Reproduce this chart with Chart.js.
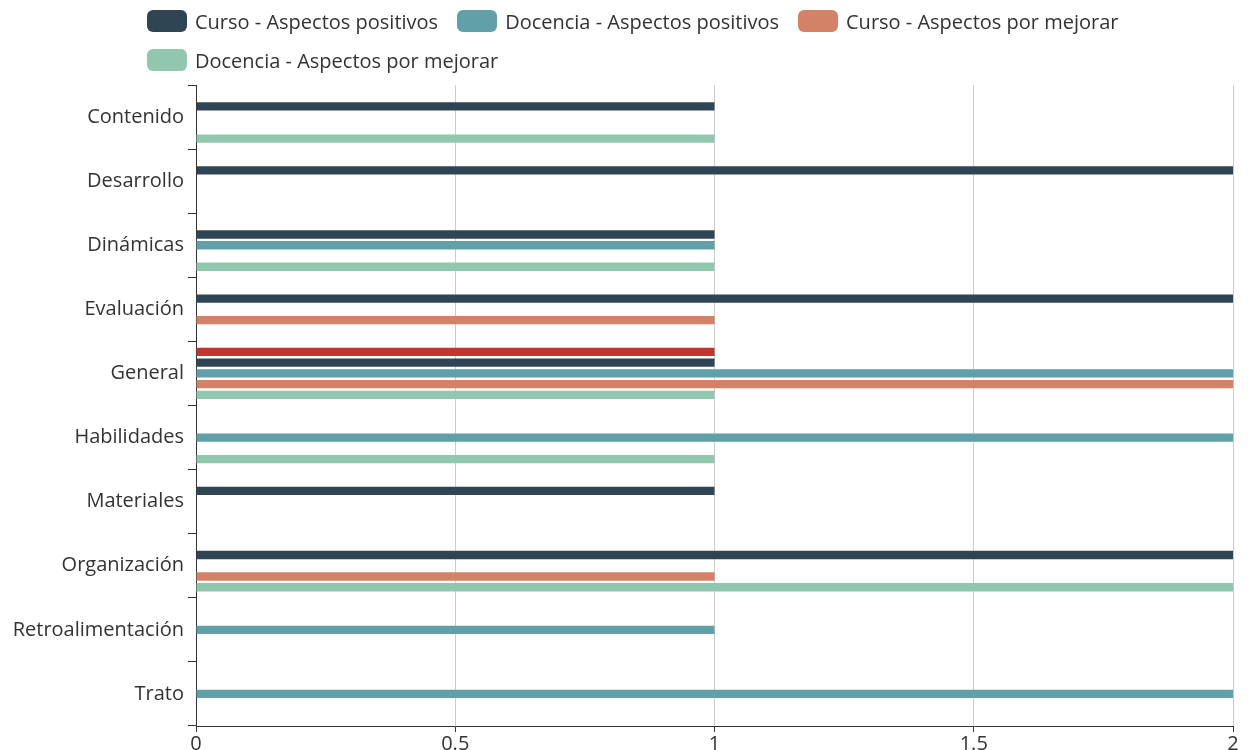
<!DOCTYPE html>
<html>
<head>
<meta charset="utf-8">
<script src="https://cdn.jsdelivr.net/npm/chart.js@4.4.1/dist/chart.umd.min.js"></script>
<style>
  body { margin: 0; background: #fff; }
  #wrap { position: relative; width: 1248px; height: 750px; overflow: hidden; }
  #legend {
    position: absolute; left: 147px; top: 10px; width: 990px;
    display: flex; flex-wrap: wrap; column-gap: 19px; row-gap: 17px;
    font-family: "Open Sans", sans-serif; font-size: 20px; color: #333;
  }
  .item { display: flex; align-items: center; height: 22px; white-space: nowrap; }
  .swatch { width: 40px; height: 22px; border-radius: 6px; margin-right: 8px; }
</style>
</head>
<body>
<div id="wrap">
  <div id="legend"></div>
  <canvas id="chart"></canvas>
</div>
<script>
const categories = ["Contenido", "Desarrollo", "Dinámicas", "Evaluación", "General", "Habilidades", "Materiales", "Organización", "Retroalimentación", "Trato"];
const seriesNames = ["", "Curso - Aspectos positivos", "Docencia - Aspectos positivos", "Curso - Aspectos por mejorar", "Docencia - Aspectos por mejorar"];
const seriesColors = ["#c23531", "#2f4554", "#61a0a8", "#d48265", "#91c7ae"];
const sinNombre = [null, null, null, null, 1, null, null, null, null, null];
const cursoPositivos = [1, 2, 1, 2, 1, null, 1, 2, null, null];
const docenciaPositivos = [null, null, 1, null, 2, 2, null, null, 1, 2];
const cursoMejorar = [null, null, null, 1, 2, null, null, 1, null, null];
const docenciaMejorar = [1, null, 1, null, 1, 1, null, 2, null, null];
const xTicks = [0, 0.5, 1, 1.5, 2];

const seriesValues = [sinNombre, cursoPositivos, docenciaPositivos, cursoMejorar, docenciaMejorar];
const font = { family: "'Open Sans', sans-serif", size: 20 };

const datasets = seriesValues.map((values, i) => ({
  label: seriesNames[i],
  data: values,
  backgroundColor: seriesColors[i],
  borderWidth: 0,
  categoryPercentage: 0.8385,
  barPercentage: 0.769,
}));

function renderLegend() {
  const legend = document.getElementById("legend");
  legend.innerHTML = datasets
    .filter((ds) => ds.label)
    .map((ds) => `<div class="item"><span class="swatch" style="background:${ds.backgroundColor}"></span>${ds.label}</div>`)
    .join("");
}

renderLegend();

new Chart(document.getElementById("chart"), {
  type: "bar",
  data: { labels: categories, datasets },
  options: {
    indexAxis: "y",
    responsive: true,
    maintainAspectRatio: false,
    animation: false,
    layout: { padding: { top: 85, right: 15, left: 0, bottom: 0 } },
    plugins: {
      legend: { display: false },
      tooltip: { enabled: false },
    },
    scales: {
      x: {
        min: 0,
        max: 2,
        afterFit: (scale) => { scale.height = 24; },
        afterBuildTicks: (scale) => { scale.ticks = xTicks.map((v) => ({ value: v })); },
        ticks: { color: "#333", font, padding: 0, callback: (v) => String(v) },
        grid: {
          color: (ctx) => (ctx.tick && ctx.tick.value === 0 ? "rgba(0,0,0,0)" : "#ccc"),
          tickColor: "#333",
          tickLength: 6,
          lineWidth: 1,
        },
        border: { color: "#333", width: 1 },
      },
      y: {
        afterFit: (scale) => { scale.width = 196; },
        ticks: { color: "#333", font, padding: 4 },
        grid: {
          offset: true,
          drawOnChartArea: false,
          tickColor: "#333",
          tickLength: 8,
        },
        border: { color: "#333", width: 1 },
      },
    },
  },
});
</script>
</body>
</html>
